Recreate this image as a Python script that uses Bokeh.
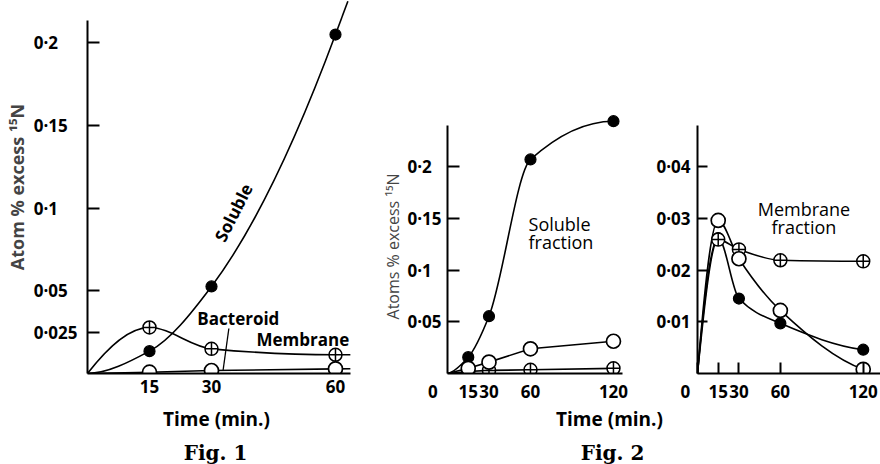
import numpy as np
from bokeh.plotting import figure
from bokeh.models import Range1d, FixedTicker, ColumnDataSource
from bokeh.layouts import row, column
from bokeh.embed import file_html
from bokeh.resources import INLINE
from bokeh.core.properties import value

# ---------------- data ----------------
fig1_time = [0, 15, 30, 60]
fig1_soluble = [0.0, 0.0135, 0.0526, 0.2048]
fig1_membrane = [0.0, 0.0278, 0.0149, 0.0113]
fig1_bacteroid = [0.0, 0.0008, 0.0018, 0.0028]
fig1_yticks = [0.025, 0.05, 0.1, 0.15, 0.2]
fig1_ytick_labels = ["0·025", "0·05", "0·1", "0·15", "0·2"]
fig1_xticks = [15, 30, 60]
fig1_xtick_labels = ["15", "30", "60"]

fig2_time = [0, 15, 30, 60, 120]
sol_filled = [0.0, 0.0158, 0.0554, 0.207, 0.244]
sol_open = [0.0, 0.005, 0.011, 0.0239, 0.0312]
sol_cross = [0.0, 0.002, 0.003, 0.0036, 0.005]
mem_filled = [0.0, 0.0262, 0.0145, 0.0097, 0.0046]
mem_open = [0.0, 0.0296, 0.0222, 0.0122, 0.0008]
mem_cross = [0.0, 0.0259, 0.0240, 0.0219, 0.0217]
fig2_xticks = [0, 15, 30, 60, 120]
fig2_xtick_labels = ["0", "15", "30", "60", "120"]
sol_yticks = [0.05, 0.1, 0.15, 0.2]
sol_ytick_labels = ["0·05", "0·1", "0·15", "0·2"]
mem_yticks = [0.01, 0.02, 0.03, 0.04]
mem_ytick_labels = ["0·01", "0·02", "0·03", "0·04"]

# ---------------- layout / style constants ----------------
FS = "\u2007"   # figure space (digit width)
PS = "\u2008"   # punctuation space
SANS = "Open Sans"
FRAME_H = 373
BOTTOM = 33
TOP_H = FRAME_H + BOTTOM
CAP_H = 464 - TOP_H
LW = 1.6


def pchip_slopes(x, y):
    x = np.asarray(x, float)
    y = np.asarray(y, float)
    h = np.diff(x)
    d = np.diff(y) / h
    n = len(x)
    m = np.zeros(n)
    for k in range(1, n - 1):
        if d[k - 1] * d[k] <= 0:
            m[k] = 0.0
        else:
            w1 = 2 * h[k] + h[k - 1]
            w2 = h[k] + 2 * h[k - 1]
            m[k] = (w1 + w2) / (w1 / d[k - 1] + w2 / d[k])

    def end(h0, h1, d0, d1):
        s = ((2 * h0 + h1) * d0 - h0 * d1) / (h0 + h1)
        if np.sign(s) != np.sign(d0):
            return 0.0
        if np.sign(d0) != np.sign(d1) and abs(s) > abs(3 * d0):
            return 3 * d0
        return s

    m[0] = end(h[0], h[1], d[0], d[1])
    m[-1] = end(h[-1], h[-2], d[-1], d[-2])
    return m


def smooth_curve(p, x, y, tail=0.0):
    x = np.asarray(x, float)
    y = np.asarray(y, float)
    m = pchip_slopes(x, y)
    x0, x1 = x[:-1], x[1:]
    h = x1 - x0
    data = dict(x0=list(x0), y0=list(y[:-1]), x1=list(x1), y1=list(y[1:]),
                cx0=list(x0 + h / 3), cy0=list(y[:-1] + m[:-1] * h / 3),
                cx1=list(x1 - h / 3), cy1=list(y[1:] - m[1:] * h / 3))
    if tail > 0:
        xe, ye, me = x[-1], y[-1], m[-1]
        data["x0"].append(xe); data["y0"].append(ye)
        data["x1"].append(xe + tail); data["y1"].append(ye + me * tail)
        data["cx0"].append(xe + tail / 3); data["cy0"].append(ye + me * tail / 3)
        data["cx1"].append(xe + 2 * tail / 3); data["cy1"].append(ye + 2 * me * tail / 3)
    p.bezier(x0="x0", y0="y0", x1="x1", y1="y1", cx0="cx0", cy0="cy0",
             cx1="cx1", cy1="cy1", source=ColumnDataSource(data),
             line_color="black", line_width=LW)


def markers(p, x, y, kind):
    if kind == "filled":
        p.scatter(x, y, marker="circle", size=11, fill_color="black",
                  line_color="black", line_width=1.2)
    elif kind == "open":
        p.scatter(x, y, marker="circle", size=14, fill_color="white",
                  line_color="black", line_width=1.7)
    else:
        p.scatter(x, y, marker="circle_cross", size=13, fill_color="white",
                  line_color="black", line_width=1.5)


def pad_left_aligned(labels):
    nd = [sum(c.isdigit() for c in s) for s in labels]
    mx = max(nd)
    return [s + FS * (mx - k) for s, k in zip(labels, nd)]


def panel(width, min_left, x_end, y_end):
    p = figure(width=width, height=TOP_H, title=None,
               x_range=Range1d(0, x_end), y_range=Range1d(0, y_end),
               output_backend="svg", toolbar_location=None,
               min_border_left=min_left, min_border_right=0,
               min_border_top=0, min_border_bottom=BOTTOM)
    p.grid.visible = False
    p.outline_line_color = None
    p.background_fill_color = "white"
    p.border_fill_color = "white"
    for ax in (p.xaxis[0], p.yaxis[0]):
        ax.axis_line_width = 2
        ax.axis_line_color = "black"
        ax.major_tick_line_width = 2
        ax.major_tick_line_color = "black"
        ax.minor_tick_in = 0
        ax.minor_tick_out = 0
        ax.major_tick_out = 0
        ax.major_label_text_font = SANS
        ax.major_label_text_font_style = "bold"
        ax.major_label_text_font_size = "17px"
        ax.major_label_text_color = "black"
    return p


def set_ticks(ax, ticks, labels):
    ax.ticker = FixedTicker(ticks=ticks, minor_ticks=[])
    ax.major_label_overrides = {t: l for t, l in zip(ticks, labels)}


def label(p, x, y, txt, size="18px", align="left", angle=0.0, style="normal"):
    p.text(x=[x], y=[y], text=[txt], angle=angle, angle_units="deg",
           text_font=value(SANS), text_font_size=size, text_font_style=style,
           text_align=align, text_baseline="middle", text_color="black")


# ================= Fig. 1 =================
pA = panel(360, 87, 273 / 4.133, FRAME_H / 1655)
set_ticks(pA.xaxis[0], fig1_xticks, fig1_xtick_labels)
pA.xaxis[0].major_tick_in = 0
pA.xaxis[0].major_label_standoff = 6
pA.xaxis[0].bounds = (0, 63.6)
set_ticks(pA.yaxis[0], fig1_yticks, pad_left_aligned(fig1_ytick_labels))
pA.yaxis[0].major_tick_in = 12
pA.yaxis[0].major_label_standoff = 10
pA.yaxis[0].bounds = (0, 0.2133)
pA.yaxis[0].axis_label = "Atom % excess \u00b9\u2075N"
pA.yaxis[0].axis_label_text_font = SANS
pA.yaxis[0].axis_label_text_font_style = "bold"
pA.yaxis[0].axis_label_text_font_size = "18px"
pA.yaxis[0].axis_label_standoff = 2

smooth_curve(pA, fig1_time, fig1_bacteroid, tail=3.6)
smooth_curve(pA, fig1_time, fig1_membrane, tail=3.6)
smooth_curve(pA, fig1_time, fig1_soluble, tail=3.0)
pA.segment(x0=[34.2], y0=[0.0272], x1=[32.8], y1=[0.0018],
           line_color="black", line_width=1.3)
markers(pA, fig1_time[1:], fig1_soluble[1:], "filled")
markers(pA, fig1_time[1:], fig1_membrane[1:], "cross")
markers(pA, fig1_time[1:], fig1_bacteroid[1:], "open")
label(pA, 35.3, 0.0973, "Soluble", size="17px", align="center", angle=63,
      style="bold")
label(pA, 36.5, 0.033, "Bacteroid", size="17px", align="center", style="bold")
label(pA, 52.1, 0.0208, "Membrane", size="17px", align="center", style="bold")

# ================= Fig. 2, soluble =================
pB = panel(285, 87, 198 / 1.383, FRAME_H / 1034)
set_ticks(pB.xaxis[0], fig2_xticks,
          [fig2_xtick_labels[0] + FS * 3] + fig2_xtick_labels[1:])
pB.xaxis[0].major_tick_in = 0
pB.xaxis[0].major_label_standoff = 6
pB.xaxis[0].bounds = (0, 126.5)
set_ticks(pB.yaxis[0], sol_yticks, pad_left_aligned(sol_ytick_labels))
pB.yaxis[0].major_tick_in = 12
pB.yaxis[0].major_label_standoff = 6
pB.yaxis[0].bounds = (0, 0.2398)
pB.yaxis[0].axis_label = "Atoms % excess \u00b9\u2075N" + FS * 13
pB.yaxis[0].axis_label_text_font = SANS
pB.yaxis[0].axis_label_text_font_style = "normal"
pB.yaxis[0].axis_label_text_font_size = "16px"
pB.yaxis[0].axis_label_standoff = 0

pB.line(fig2_time, sol_cross, line_color="black", line_width=LW)
pB.line(fig2_time, sol_open, line_color="black", line_width=LW)
smooth_curve(pB, fig2_time, sol_filled)
markers(pB, fig2_time[1:], sol_filled[1:], "filled")
markers(pB, fig2_time[1:], sol_cross[1:], "cross")
markers(pB, fig2_time[1:], sol_open[1:], "open")
label(pB, 58.6, 0.1442, "Soluble")
label(pB, 58.6, 0.1268, "fraction")

# ================= Fig. 2, membrane =================
pC = panel(235, 52, 183 / 1.381, FRAME_H / 5170)
set_ticks(pC.xaxis[0], fig2_xticks,
          [fig2_xtick_labels[0] + FS * 2 + PS] + fig2_xtick_labels[1:])
pC.xaxis[0].major_tick_in = 11
pC.xaxis[0].major_label_standoff = 6
set_ticks(pC.yaxis[0], mem_yticks, mem_ytick_labels)
pC.yaxis[0].major_tick_in = 10
pC.yaxis[0].major_label_standoff = 7
pC.yaxis[0].bounds = (0, 0.048)

smooth_curve(pC, fig2_time, mem_filled)
smooth_curve(pC, fig2_time, mem_cross)
smooth_curve(pC, fig2_time, mem_open)
markers(pC, fig2_time[1:], mem_filled[1:], "filled")
markers(pC, fig2_time[1:], mem_cross[1:], "cross")
markers(pC, fig2_time[1:], mem_open[1:], "open")
label(pC, 77.1, 0.0319, "Membrane", align="center")
label(pC, 77.1, 0.0284, "fraction", align="center")

# ================= captions =================
cap = figure(width=880, height=CAP_H, title=None, x_range=Range1d(0, 880),
             y_range=Range1d(CAP_H, 0), x_axis_type=None, y_axis_type=None,
             output_backend="svg", toolbar_location=None,
             min_border_left=0, min_border_right=0, min_border_top=0,
             min_border_bottom=0)
cap.outline_line_color = None
cap.grid.visible = False
cap_text = ["Time (min.)", "Time (min.)"]
cap.text(x=[216, 609], y=[418 - TOP_H, 418 - TOP_H], text=cap_text,
         text_font=value(SANS), text_font_style="bold", text_font_size="19px",
         text_align="center", text_baseline="middle", text_color="black")
cap.text(x=[215, 612], y=[452 - TOP_H, 452 - TOP_H], text=["Fig. 1", "Fig. 2"],
         text_font=value("DejaVu Serif"), text_font_style="bold",
         text_font_size="20px", text_align="center",
         text_baseline="middle", text_color="black")

layout = column(row(pA, pB, pC, spacing=0), cap, spacing=0)
open("out.html", "w").write(file_html(layout, INLINE))
